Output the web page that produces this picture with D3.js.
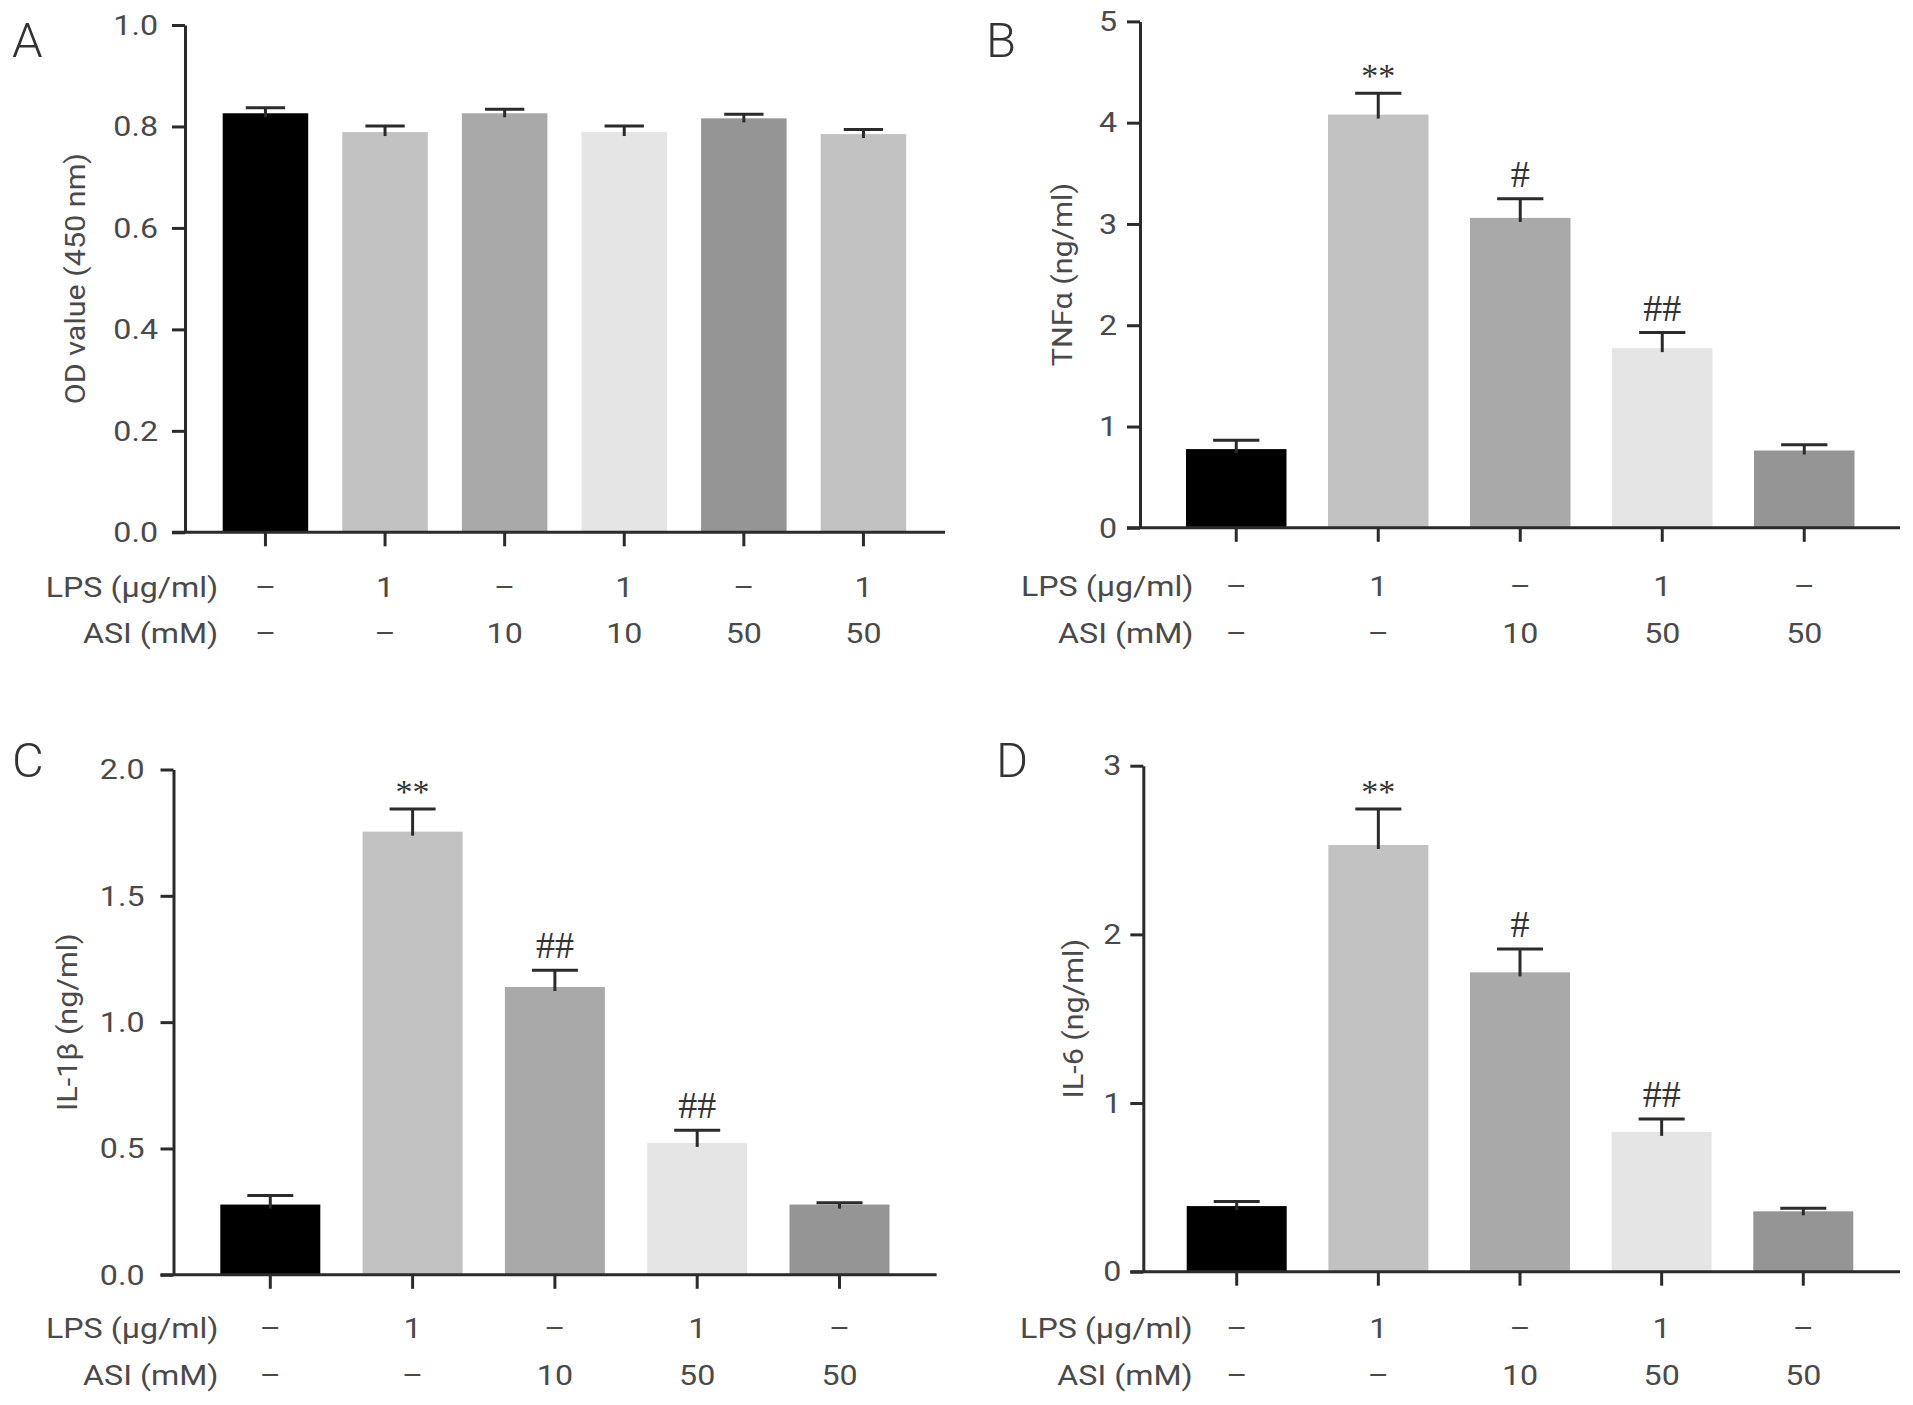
<!DOCTYPE html>
<html><head><meta charset="utf-8">
<script src="https://cdn.jsdelivr.net/npm/d3@7"></script>
<style>body{margin:0;background:#fff}</style>
</head><body>
<svg id="chart" width="1913" height="1405"></svg>
<script>
// ---------------- data ----------------
const lpsA = ["–","1","–","1","–","1"];
const asiA = ["–","–","10","10","50","50"];
const lpsBCD = ["–","1","–","1","–"];
const asiBCD = ["–","–","10","50","50"];

const odMean = [0.826, 0.789, 0.826, 0.789, 0.816, 0.785];
const odErr  = [0.011, 0.012, 0.008, 0.012, 0.008, 0.009];
const odSig  = ["", "", "", "", "", ""];

const tnfMean = [0.777, 4.08, 3.06, 1.774, 0.763];
const tnfErr  = [0.088, 0.21, 0.19, 0.154, 0.057];
const tnfSig  = ["", "**", "#", "##", ""];

const il1bMean = [0.278, 1.754, 1.139, 0.522, 0.278];
const il1bErr  = [0.036, 0.090, 0.066, 0.050, 0.007];
const il1bSig  = ["", "**", "##", "##", ""];

const il6Mean = [0.389, 2.53, 1.775, 0.829, 0.358];
const il6Err  = [0.027, 0.213, 0.138, 0.077, 0.018];
const il6Sig  = ["", "**", "#", "##", ""];

const odTicks = [0, 0.2, 0.4, 0.6, 0.8, 1.0];
const tnfTicks = [0, 1, 2, 3, 4, 5];
const il1bTicks = [0, 0.5, 1.0, 1.5, 2.0];
const il6Ticks = [0, 1, 2, 3];

const barColors = ["#000000", "#c2c2c2", "#a9a9a9", "#e5e5e5", "#959595", "#c2c2c2"];
const rowNames = ["LPS (μg/ml)", "ASI (mM)"];

// ---------------- layout ----------------
const FONT = "Roboto, 'Helvetica Neue', Arial, sans-serif";
const SERIF = "'Liberation Serif', 'Times New Roman', serif";
const TXT = "#4a4a4a";
const AX = "#2b2b2b";
const SX = 1.15;

const panels = [
  {letter:"A", lx:12, ly:57, title:"OD value (450 nm)", mean:odMean, err:odErr, sig:odSig, ticks:odTicks, fmt:d3.format(".1f"),
   lps:lpsA, asi:asiA, axisX:185, y0:532.3, yTop:25, barStart:222.7, step:119.6, bw:85.5, axisEnd:945,
   titleX:75, labelGap:27, rowRight:218.3, rowY:[596.7, 643.3]},
  {letter:"B", lx:986, ly:57, title:"TNFα (ng/ml)", mean:tnfMean, err:tnfErr, sig:tnfSig, ticks:tnfTicks, fmt:d3.format("d"),
   lps:lpsBCD, asi:asiBCD, axisX:1140, y0:527.8, yTop:21.4, barStart:1186, step:142, bw:100.5, axisEnd:1900,
   titleX:1062.6, labelGap:23, rowRight:1193.5, rowY:[596, 642.5]},
  {letter:"C", lx:12, ly:777, title:"IL-1β (ng/ml)", mean:il1bMean, err:il1bErr, sig:il1bSig, ticks:il1bTicks, fmt:d3.format(".1f"),
   lps:lpsBCD, asi:asiBCD, axisX:173.5, y0:1274.8, yTop:769.5, barStart:220.3, step:142.3, bw:100, axisEnd:936.6,
   titleX:67.5, labelGap:29, rowRight:218.5, rowY:[1338, 1384.5]},
  {letter:"D", lx:996, ly:777, title:"IL-6 (ng/ml)", mean:il6Mean, err:il6Err, sig:il6Sig, ticks:il6Ticks, fmt:d3.format("d"),
   lps:lpsBCD, asi:asiBCD, axisX:1143.3, y0:1271.7, yTop:765.7, barStart:1186.7, step:141.65, bw:100, axisEnd:1900,
   titleX:1073.5, labelGap:22, rowRight:1192.7, rowY:[1338.3, 1385]}
];

const svg = d3.select("#chart");
svg.append("rect").attr("width",1913).attr("height",1405).attr("fill","#fff");

function T(parent, x, y, s, o) {
  o = o || {};
  const g = parent.append("g")
    .attr("transform", `translate(${x},${y})` + (o.rotate ? ` rotate(${o.rotate})` : "") + ` scale(${o.sx == null ? SX : o.sx},1)`);
  g.append("text")
    .attr("text-anchor", o.anchor || "middle")
    .attr("dominant-baseline", o.baseline || "auto")
    .attr("font-family", o.family || FONT)
    .attr("font-weight", o.weight || 400)
    .attr("font-size", o.size || 28)
    .attr("fill", o.fill || TXT)
    .text(s);
  return g;
}

panels.forEach(p => {
  const n = p.mean.length;
  const idx = d3.range(n);
  const gap = p.step - p.bw;
  const pi = gap / p.step;
  const r0 = p.barStart - gap / 2;
  const x = d3.scaleBand().domain(idx).range([r0, r0 + n * p.step]).paddingInner(pi).paddingOuter(pi / 2);
  const yMax = p.ticks[p.ticks.length - 1];
  const y = d3.scaleLinear().domain([0, yMax]).range([p.y0, p.yTop]);
  const g = svg.append("g");

  // bars
  g.selectAll("rect.bar").data(idx).join("rect")
    .attr("class","bar")
    .attr("x", i => x(i))
    .attr("width", x.bandwidth())
    .attr("y", i => y(p.mean[i]))
    .attr("height", i => y(0) - y(p.mean[i]))
    .attr("fill", i => barColors[i]);

  // error bars
  const capW = x.bandwidth() * 0.46;
  const eb = g.selectAll("g.eb").data(idx).join("g").attr("class","eb")
    .attr("stroke", AX).attr("stroke-width", 3).attr("fill","none");
  eb.append("line")
    .attr("x1", i => x(i) + x.bandwidth()/2).attr("x2", i => x(i) + x.bandwidth()/2)
    .attr("y1", i => y(p.mean[i]) + 4).attr("y2", i => y(p.mean[i] + p.err[i]));
  eb.append("line")
    .attr("x1", i => x(i) + x.bandwidth()/2 - capW/2).attr("x2", i => x(i) + x.bandwidth()/2 + capW/2)
    .attr("y1", i => y(p.mean[i] + p.err[i])).attr("y2", i => y(p.mean[i] + p.err[i]));

  // significance marks
  idx.forEach(i => {
    const s = p.sig[i];
    if (!s) return;
    const cx = x(i) + x.bandwidth()/2;
    const ye = y(p.mean[i] + p.err[i]);
    if (s[0] === "*") {
      T(g, cx, ye - 6, s, {family: SERIF, size: 34, weight: 400, fill: "#333", sx: 1});
    } else {
      T(g, cx, ye - 12, s, {family: SERIF, size: 38, weight: 400, fill: "#333", sx: 1});
    }
  });

  // y axis
  const yAxis = d3.axisLeft(y).tickValues(p.ticks).tickSize(13).tickSizeOuter(0).tickFormat("");
  const ya = g.append("g").attr("transform", `translate(${p.axisX},0)`).call(yAxis);
  ya.select(".domain").attr("stroke", AX).attr("stroke-width", 3);
  ya.selectAll(".tick line").attr("stroke", AX).attr("stroke-width", 3);
  p.ticks.forEach(v => {
    T(g, p.axisX - p.labelGap, y(v), p.fmt(v), {anchor: "end", baseline: "central"});
  });

  // x axis
  const xAxis = d3.axisBottom(x).tickSize(14).tickSizeOuter(0).tickFormat("");
  const xa = g.append("g").attr("transform", `translate(0,${y(0)})`).call(xAxis);
  xa.select(".domain").remove();
  xa.selectAll(".tick line").attr("stroke", AX).attr("stroke-width", 3);
  g.append("line")
    .attr("x1", p.axisX - 13).attr("x2", p.axisEnd)
    .attr("y1", y(0)).attr("y2", y(0))
    .attr("stroke", AX).attr("stroke-width", 3);

  // y title
  T(g, p.titleX, (y(0) + y(yMax)) / 2, p.title, {rotate: -90, baseline: "central", sx: 1.09});

  // condition rows
  T(g, p.rowRight, p.rowY[0], rowNames[0], {anchor: "end"});
  T(g, p.rowRight, p.rowY[1], rowNames[1], {anchor: "end"});
  idx.forEach(i => {
    const cx = x(i) + x.bandwidth()/2;
    T(g, cx, p.rowY[0], p.lps[i]);
    T(g, cx, p.rowY[1], p.asi[i]);
  });

  // panel letter
  T(svg, p.lx, p.ly, p.letter, {anchor: "start", size: 49, weight: 300, fill: "#333", sx: 1});
});
</script>
</body></html>
